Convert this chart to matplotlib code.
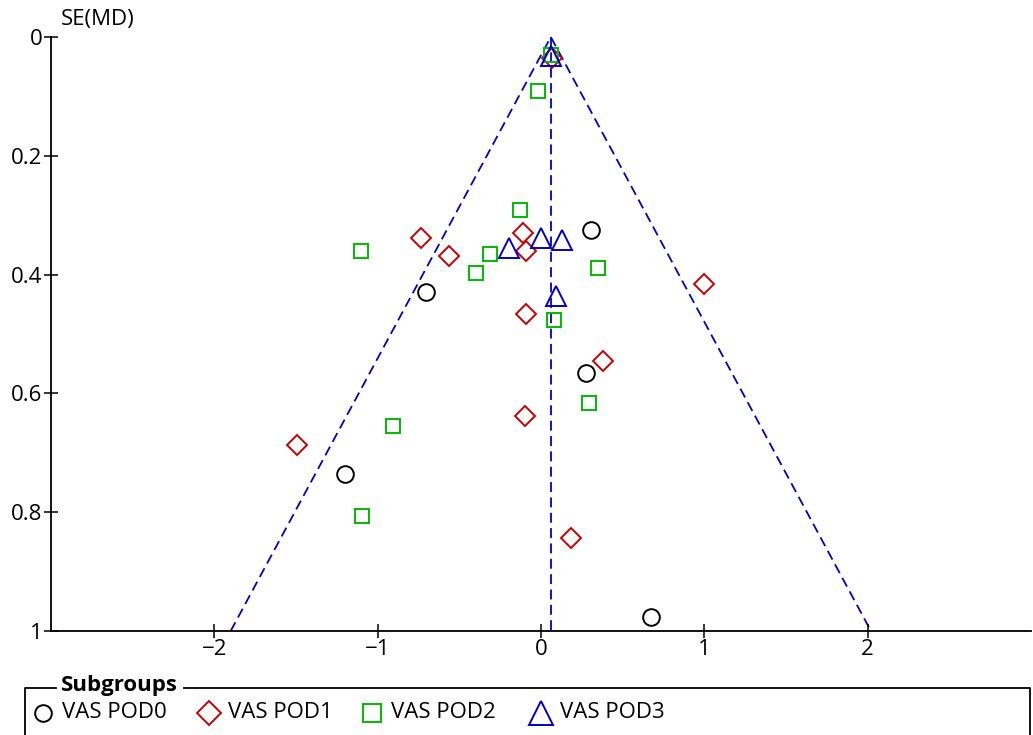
import matplotlib
matplotlib.use("Agg")
import matplotlib.pyplot as plt
import numpy as np

plt.rcParams['font.family'] = ['Open Sans', 'DejaVu Sans']

# pooled mean difference (funnel centre)
md_pooled = 0.06

# VAS POD0
pod0_md = [0.306, -0.704, 0.276, -1.200, 0.674]
pod0_se = [0.325, 0.429, 0.566, 0.736, 0.976]
# VAS POD1
pod1_md = [0.067, -0.735, -0.563, -0.110, -0.092, 0.998, -0.092, 0.380, -0.098, -1.494, 0.184]
pod1_se = [0.035, 0.338, 0.369, 0.330, 0.360, 0.416, 0.466, 0.545, 0.638, 0.687, 0.843]
# VAS POD2
pod2_md = [0.061, -0.018, -0.129, -1.102, -0.312, -0.398, 0.349, 0.080, 0.294, -0.906, -1.096]
pod2_se = [0.030, 0.091, 0.291, 0.360, 0.365, 0.397, 0.389, 0.476, 0.616, 0.655, 0.806]
# VAS POD3
pod3_md = [0.061, -0.196, 0.000, 0.129, 0.092]
pod3_se = [0.032, 0.355, 0.338, 0.342, 0.436]

groups = ["VAS POD0", "VAS POD1", "VAS POD2", "VAS POD3"]
blue = '#0000CC'
red = '#CC0000'
green = '#00BB00'
fs = 16

fig = plt.figure(figsize=(10.33, 7.35), dpi=100)
ax = fig.add_axes([51/1033, 1 - 631/735, 980/1033, 594/735])

# funnel
se_max = 1.0
ax.plot([md_pooled - 1.96*se_max, md_pooled, md_pooled + 1.96*se_max], [se_max, 0, se_max],
        color=blue, ls=(0, (5.5, 3)), lw=1.3, zorder=1)
ax.plot([md_pooled, md_pooled], [0, se_max], color=blue, ls=(0, (5.5, 3)), lw=1.3, zorder=1)

mk = dict(ls='none', mfc='none', mew=1.4, clip_on=False)
ax.plot(pod0_md, pod0_se, marker='o', ms=12, mec='black', **mk)
ax.plot(pod1_md, pod1_se, marker='D', ms=10.5, mec=red, **mk)
ax.plot(pod2_md, pod2_se, marker='s', ms=10.5, mec=green, **mk)
ax.plot(pod3_md, pod3_se, marker='^', ms=14, mec=blue, **mk)

ax.set_xlim(-3, 3)
ax.set_ylim(1, 0)
ax.set_xticks([-2, -1, 0, 1, 2])
ax.set_xticklabels(['\u22122', '\u22121', '0', '1', '2'])
ax.set_yticks([0, 0.2, 0.4, 0.6, 0.8, 1])
ax.set_yticklabels(['0', '0.2', '0.4', '0.6', '0.8', '1'])
for s in ['top', 'right']:
    ax.spines[s].set_visible(False)
for s in ['left', 'bottom']:
    ax.spines[s].set_linewidth(1.3)
ax.tick_params(direction='inout', length=10, width=1.1, labelsize=fs, pad=1)

# overlay in pixel coordinates for labels and legend
ov = fig.add_axes([0, 0, 1, 1], zorder=-1)
ov.set_xlim(0, 1033)
ov.set_ylim(735, 0)
ov.axis('off')
ov.text(61, 19, "SE(MD)", fontsize=fs, va='center', ha='left')
ov.text(1029, 613, "MD", fontsize=fs, va='center', ha='right')

# legend box
ov.plot([25, 25, 56], [740, 688, 688], color='black', lw=1.3)
ov.plot([184, 1030, 1030], [688, 688, 740], color='black', lw=1.3)
ov.text(61, 686, "Subgroups", fontsize=fs, fontweight='bold', va='center', ha='left')

leg_y = 713
leg_x = [43, 209, 372, 541]
leg_style = [('o', 'black', 12), ('D', red, 12.5), ('s', green, 13), ('^', blue, 17)]
for x0, (m, c, s), name in zip(leg_x, leg_style, groups):
    ov.plot([x0], [leg_y], marker=m, ms=s, mec=c, mfc='none', mew=1.4, ls='none')
    ov.text(x0 + 19, leg_y, name, fontsize=fs, va='center', ha='left')

fig.savefig("out.png", dpi=100)
